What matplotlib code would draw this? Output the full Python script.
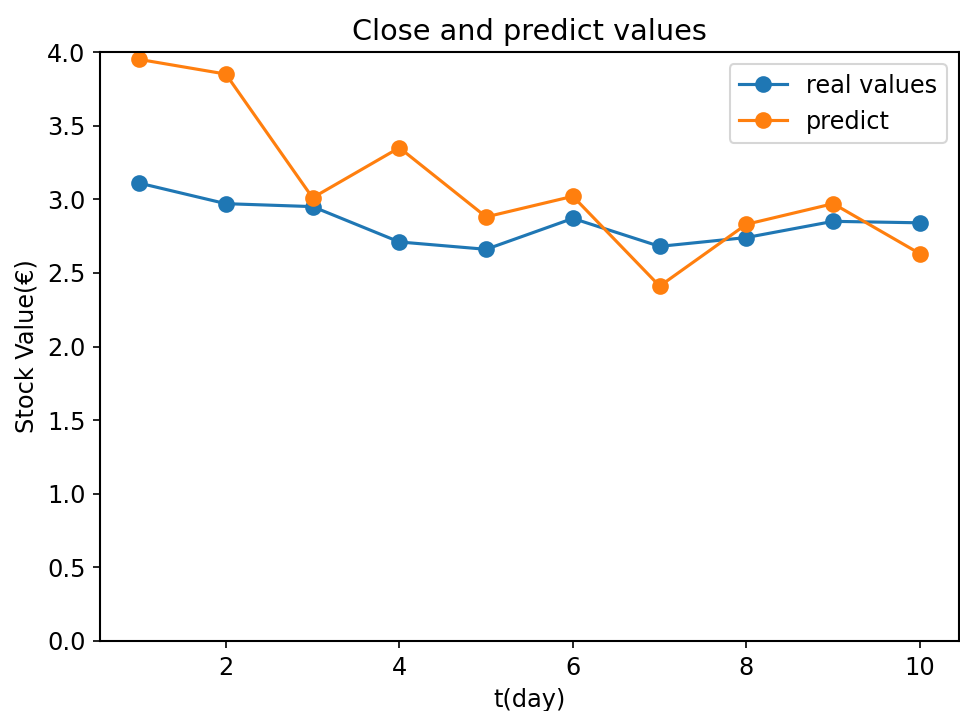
import matplotlib
matplotlib.use("Agg")
import matplotlib.pyplot as plt

days = [1, 2, 3, 4, 5, 6, 7, 8, 9, 10]
real_values = [3.11, 2.97, 2.95, 2.71, 2.66, 2.87, 2.68, 2.74, 2.85, 2.84]
predict = [3.95, 3.85, 3.01, 3.35, 2.88, 3.02, 2.41, 2.83, 2.97, 2.63]

plt.rcParams['font.size'] = 11.5
plt.rcParams['axes.linewidth'] = 1.0

fig = plt.figure(figsize=(6.4, 4.74), dpi=150)
ax = fig.add_axes([100 / 960, 1 - 641 / 711, 859 / 960, 589 / 711])
ax.plot(days, real_values, 'o-', markersize=7, label='real values')
ax.plot(days, predict, 'o-', markersize=7, label='predict')
ax.set_ylim(0, 4.0)
ax.set_title('Close and predict values')
ax.set_xlabel('t(day)')
ax.set_ylabel('Stock Value(€)')
ax.legend(loc='upper right')
fig.savefig('out.png', dpi=150)
